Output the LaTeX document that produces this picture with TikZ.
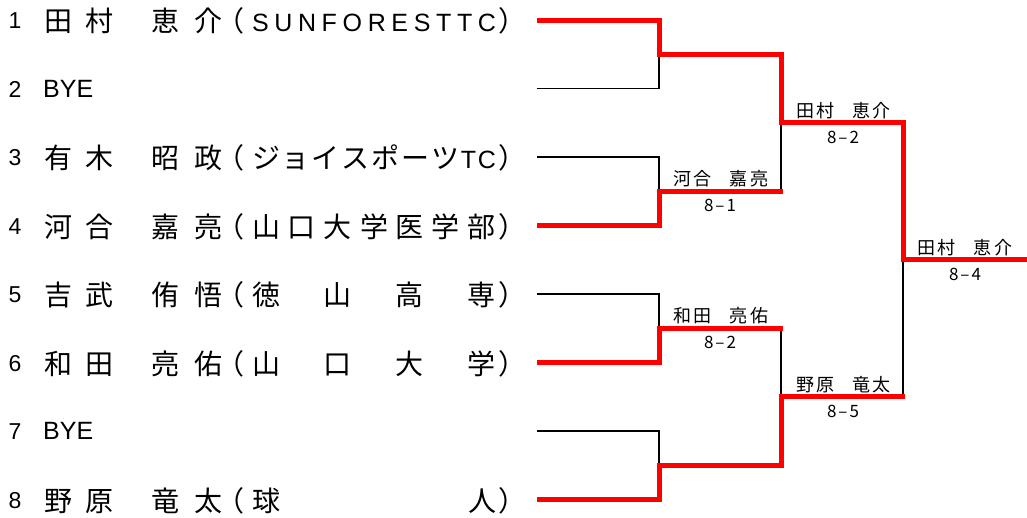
\documentclass[tikz,border=0pt]{standalone}
\usepackage{fontspec}
\setmainfont{Liberation Sans}
\newfontfamily\jp{Noto Sans CJK JP}
\newfontfamily\lib{Liberation Sans}
\usetikzlibrary{calc}
\newcommand\kjfont{\jp\fontsize{28}{28}\selectfont}
\newcommand\ltfont{\lib\fontsize{25}{25}\selectfont}
\newcommand\lbfont{\jp\fontsize{18}{18}\selectfont}
\newcommand\scfont{\jp\fontsize{17}{17}\selectfont}
\newcommand\lt[1]{{\ltfont #1}}
\newcommand\wname[4]{\makebox[95pt][s]{#1\hspace{2.5pt}#2\hfill #3\hspace{2.5pt}#4}}
\tikzset{
  kan/.style={anchor=base, inner sep=0pt, font=\kjfont},
  numtxt/.style={anchor=base west, inner sep=0pt, font=\lib\fontsize{23}{23}\selectfont},
  byetxt/.style={anchor=base west, inner sep=0pt, font=\ltfont},
  lbl/.style={anchor=base, inner sep=0pt, font=\lbfont},
  score/.style={anchor=base, inner sep=0pt, font=\scfont},
  loser/.style={draw=black, line width=1.3pt},
  winner/.style={draw=red, line width=5pt, line join=miter},
}
\newcommand\player[5]{%
  \node[numtxt] (num#1) at (8.5,#2+8.5) {#1};
  \node[kan] (sur#1) at (79,#2+11.6) {\makebox[69pt][s]{#3}};
  \node[kan] (giv#1) at (186.75,#2+11.6) {\makebox[71.5pt][s]{#4}};
  \node[kan] (op#1) at (230.5,#2+11.6) {（};
  \node[kan] (aff#1) at (374,#2+11.6) {\makebox[244pt][s]{#5}};
  \node[kan] (cp#1) at (512.5,#2+11.6) {）};
}
\begin{document}
\begin{tikzpicture}[x=1pt,y=-1pt]
\useasboundingbox (0,0) rectangle (1027,517);
% entries
\player{1}{20}{田\hfill 村}{恵\hfill 介}{{\ltfont S\hfill U\hfill N\hfill F\hfill O\hfill R\hfill E\hfill S\hfill T\hfill T\hfill C}}
\node[numtxt] (num2) at (8.5,88.5+8.5) {2};
\node[byetxt] (bye2) at (43,88.5+8.5) {BYE};
\player{3}{157}{有\hfill 木}{昭\hfill 政}{ジ\hfill ョ\hfill イ\hfill ス\hfill ポ\hfill ー\hfill ツ\hfill \lt{T}\hfill \lt{C}}
\player{4}{225.5}{河\hfill 合}{嘉\hfill 亮}{山\hfill 口\hfill 大\hfill 学\hfill 医\hfill 学\hfill 部}
\player{5}{294}{吉\hfill 武}{侑\hfill 悟}{徳\hfill 山\hfill 高\hfill 専}
\player{6}{362.5}{和\hfill 田}{亮\hfill 佑}{山\hfill 口\hfill 大\hfill 学}
\node[numtxt] (num7) at (8.5,431+8.5) {7};
\node[byetxt] (bye7) at (43,431+8.5) {BYE};
\player{8}{499.5}{野\hfill 原}{竜\hfill 太}{球\hfill 人}
% bracket points
\coordinate (r1) at (537,20);
\coordinate (r2) at (537,88.5);
\coordinate (r3) at (537,157);
\coordinate (r4) at (537,225.5);
\coordinate (r5) at (537,294);
\coordinate (r6) at (537,362.5);
\coordinate (r7) at (537,431);
\coordinate (r8) at (537,499.5);
\coordinate (a1) at (659,54.25);
\coordinate (a2) at (659,191.25);
\coordinate (a3) at (659,328.25);
\coordinate (a4) at (659,465.25);
\coordinate (b1) at (781,122.75);
\coordinate (b2) at (781,396.75);
\coordinate (c) at (903,259.75);
\coordinate (e) at (1027,259.75);
% losing lines
\draw[loser] (r2) -| (a1);
\draw[loser] (r3) -| (a2);
\draw[loser] (r5) -| (a3);
\draw[loser] (r7) -| (a4);
\draw[loser] (a2-|b1) -- (b1);
\draw[loser] (a3-|b2) -- (b2);
\draw[loser] (b2-|c) -- (c);
% winning lines
\draw[winner] (r1) -| (a1) -| (b1) -| (c) -- (e);
\draw[winner] (r4) -| (a2) -- ($(a2-|b1)+(2,0)$);
\draw[winner] (r6) -| (a3) -- ($(a3-|b2)+(2,0)$);
\draw[winner] (r8) -| (a4) -| (b2) -- ($(b2-|c)+(2,0)$);
% labels
\node[lbl] (w21) at (721,191.25-5.5) {\wname{河}{合}{嘉}{亮}};
\node[score] (s21) at (720,191.25+20.4) {\makebox[32pt][s]{8\hfill –\hfill 1}};
\node[lbl] (w22) at (721,328.25-5.5) {\wname{和}{田}{亮}{佑}};
\node[score] (s22) at (720,328.25+20.4) {\makebox[32pt][s]{8\hfill –\hfill 2}};
\node[lbl] (w31) at (843.5,122.75-5.5) {\wname{田}{村}{恵}{介}};
\node[score] (s31) at (843,122.75+20.4) {\makebox[32pt][s]{8\hfill –\hfill 2}};
\node[lbl] (w32) at (843.5,396.75-5.5) {\wname{野}{原}{竜}{太}};
\node[score] (s32) at (843,396.75+20.4) {\makebox[32pt][s]{8\hfill –\hfill 5}};
\node[lbl] (w41) at (965,259.75-5.5) {\wname{田}{村}{恵}{介}};
\node[score] (s41) at (965,259.75+20.4) {\makebox[32pt][s]{8\hfill –\hfill 4}};
\end{tikzpicture}
\end{document}
